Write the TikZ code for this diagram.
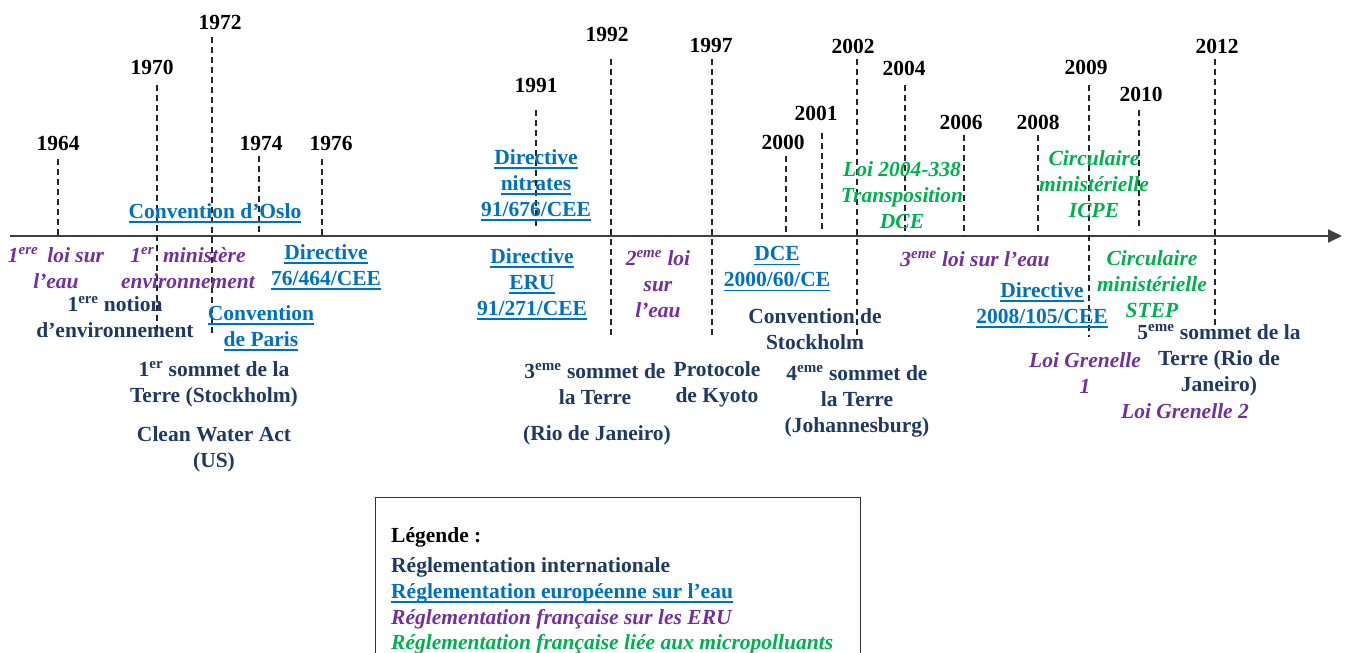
\documentclass[tikz,border=0pt]{standalone}
\usepackage{fontspec}
\setmainfont{Liberation Serif}
\usetikzlibrary{arrows.meta}
\definecolor{intlblue}{HTML}{1F3864}
\definecolor{eublue}{HTML}{0070C0}
\definecolor{frpurple}{HTML}{7030A0}
\definecolor{microgreen}{HTML}{00B050}
\newcommand{\tlfont}{\fontsize{21.5}{26}\selectfont\bfseries}
\newcommand{\eu}[1]{\setbox0=\hbox{#1}\leavevmode\rlap{\rule[-4.5pt]{\wd0}{1.6pt}}\box0}
\tikzstyle{yearlbl} = [font=\tlfont, text=black, inner sep=0pt]
\tikzstyle{yearline} = [line width=1.4pt, dash pattern=on 6pt off 4pt, black!85]
\tikzstyle{axis} = [line width=2pt, black!75, -{Triangle[length=14pt,width=13pt]}]
\tikzstyle{intl} = [font=\tlfont, text=intlblue, align=center, inner sep=0pt]
\tikzstyle{euro} = [font=\tlfont, text=eublue, align=center, inner sep=0pt]
\tikzstyle{frfr} = [font=\tlfont\itshape, text=frpurple, align=center, inner sep=0pt]
\tikzstyle{micro} = [font=\tlfont\itshape, text=microgreen, align=center, inner sep=0pt]
\tikzstyle{legline} = [font=\tlfont, anchor=west, inner sep=0pt]
\begin{document}
\begin{tikzpicture}[x=1pt, y=-1pt]
\useasboundingbox (0,0) rectangle (1347,653);

% Axis
\coordinate (axstart) at (10,236);
\coordinate (axend) at (1342,236);
\draw [axis] (axstart) -- (axend);

% Years
\node (y1964) [yearlbl] at (58,143) {1964};
\node (y1970) [yearlbl] at (152,67) {1970};
\node (y1972) [yearlbl] at (220,22) {1972};
\node (y1974) [yearlbl] at (261,143) {1974};
\node (y1976) [yearlbl] at (331,143) {1976};
\node (y1991) [yearlbl] at (536,85) {1991};
\node (y1992) [yearlbl] at (607,34) {1992};
\node (y1997) [yearlbl] at (711,45) {1997};
\node (y2000) [yearlbl] at (783,142) {2000};
\node (y2001) [yearlbl] at (816,113) {2001};
\node (y2002) [yearlbl] at (853,46) {2002};
\node (y2004) [yearlbl] at (904,68) {2004};
\node (y2006) [yearlbl] at (961,122) {2006};
\node (y2008) [yearlbl] at (1038,122) {2008};
\node (y2009) [yearlbl] at (1086,67) {2009};
\node (y2010) [yearlbl] at (1141,94) {2010};
\node (y2012) [yearlbl] at (1217,46) {2012};

% Dashed lines
\coordinate (t1964) at (58,159);   \coordinate (b1964) at (58,236);
\coordinate (t1970) at (157,85);   \coordinate (b1970) at (157,337);
\coordinate (t1972) at (212,37);   \coordinate (b1972) at (212,335);
\coordinate (t1974) at (259,156);  \coordinate (b1974) at (259,236);
\coordinate (t1976) at (322,159);  \coordinate (b1976) at (322,236);
\coordinate (t1991) at (536,110);  \coordinate (b1991) at (536,230);
\coordinate (t1992) at (611,59);   \coordinate (b1992) at (611,337);
\coordinate (t1997) at (712,59);   \coordinate (b1997) at (712,337);
\coordinate (t2000) at (786,156);  \coordinate (b2000) at (786,232);
\coordinate (t2001) at (822,133);  \coordinate (b2001) at (822,232);
\coordinate (t2002) at (857,59);   \coordinate (b2002) at (857,340);
\coordinate (t2004) at (905,85);   \coordinate (b2004) at (905,236);
\coordinate (t2006) at (964,135);  \coordinate (b2006) at (964,236);
\coordinate (t2008) at (1038,135); \coordinate (b2008) at (1038,236);
\coordinate (t2009) at (1089,85);  \coordinate (b2009) at (1089,337);
\coordinate (t2010) at (1139,110); \coordinate (b2010) at (1139,230);
\coordinate (t2012) at (1215,59);  \coordinate (b2012) at (1215,327);
\draw [yearline] (t1964) -- (b1964);
\draw [yearline] (t1970) -- (b1970);
\draw [yearline] (t1972) -- (b1972);
\draw [yearline] (t1974) -- (b1974);
\draw [yearline] (t1976) -- (b1976);
\draw [yearline] (t1991) -- (b1991);
\draw [yearline] (t1992) -- (b1992);
\draw [yearline] (t1997) -- (b1997);
\draw [yearline] (t2000) -- (b2000);
\draw [yearline] (t2001) -- (b2001);
\draw [yearline] (t2002) -- (b2002);
\draw [yearline] (t2004) -- (b2004);
\draw [yearline] (t2006) -- (b2006);
\draw [yearline] (t2008) -- (b2008);
\draw [yearline] (t2009) -- (b2009);
\draw [yearline] (t2010) -- (b2010);
\draw [yearline] (t2012) -- (b2012);

% Events above the axis
\node (oslo) [euro] at (215,213) {\eu{Convention d’Oslo}};
\node (nitrates) [euro] at (536,185) {\eu{Directive}\\\eu{nitrates}\\\eu{91/676/CEE}};
\node (loi2004) [micro] at (902,195) {Loi 2004-338\\Transposition\\DCE};
\node (icpe) [micro] at (1094,184) {Circulaire\\ministérielle\\ICPE};

% Events below the axis
\node (loi1) [frfr] at (56,268) {1\textsuperscript{ere}\, loi sur\\l’eau};
\node (minist) [frfr] at (188,268) {1\textsuperscript{er}\, ministère\\environnement};
\node (notion) [intl] at (115,317) {1\textsuperscript{ere} notion\\d’environnement};
\node (dir76) [euro] at (326,267) {\eu{Directive}\\\eu{76/464/CEE}};
\node (paris) [euro] at (261,328) {\eu{Convention}\\\eu{de Paris}};
\node (sommet1) [intl] at (214,384) {1\textsuperscript{er} sommet de la\\Terre (Stockholm)};
\node (cwa) [intl] at (214,449) {Clean Water Act\\(US)};
\node (eru) [euro] at (532,284) {\eu{Directive}\\\eu{ERU}\\\eu{91/271/CEE}};
\node (loi2) [frfr] at (658,284) {2\textsuperscript{eme} loi\\sur\\l’eau};
\node (dce) [euro] at (777,269) {\eu{DCE}\\\eu{2000/60/CE}};
\node (stockholm) [intl] at (815,329) {Convention de\\Stockholm};
\node (sommet3) [intl] at (595,384) {3\textsuperscript{eme} sommet de\\la Terre};
\node (rio) [intl] at (597,435) {(Rio de Janeiro)};
\node (kyoto) [intl] at (717,384) {Protocole\\de Kyoto};
\node (sommet4) [intl] at (857,401) {4\textsuperscript{eme} sommet de\\la Terre\\(Johannesburg)};
\node (loi3) [frfr] at (975,259) {3\textsuperscript{eme} loi sur l’eau};
\node (dir2008) [euro] at (1042,305) {\eu{Directive}\\\eu{2008/105/CEE}};
\node (step) [micro] at (1152,284) {Circulaire\\ministérielle\\STEP};
\node (sommet5) [intl] at (1219,360) {5\textsuperscript{eme} sommet de la\\Terre (Rio de\\Janeiro)};
\node (grenelle1) [frfr] at (1085,373) {Loi Grenelle\\1};
\node (grenelle2) [frfr] at (1185,411) {Loi Grenelle 2};

% Legend
\node (legendbox) [draw=black!80, line width=1.4pt, anchor=north west, minimum width=485pt, minimum height=180pt] at (375,497) {};
\node (legtitle) [legline, text=black] at (391,537) {Légende :};
\node (legintl) [legline, text=intlblue] at (391,567) {Réglementation internationale};
\node (legeuro) [legline, text=eublue] at (391,593) {\eu{Réglementation européenne sur l’eau}};
\node (legfr) [legline, text=frpurple, font=\tlfont\itshape] at (391,619) {Réglementation française sur les ERU};
\node (legmicro) [legline, text=microgreen, font=\tlfont\itshape] at (391,644) {Réglementation française liée aux micropolluants};

\end{tikzpicture}
\end{document}
